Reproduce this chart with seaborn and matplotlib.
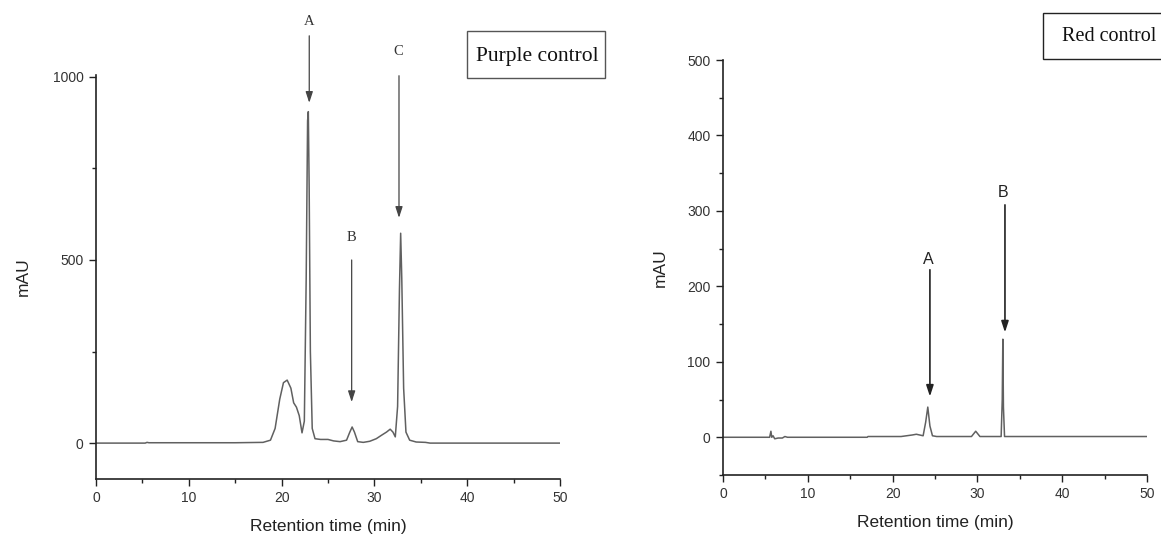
import matplotlib
matplotlib.use("Agg")
import matplotlib.pyplot as plt
from matplotlib.ticker import MultipleLocator
from matplotlib.patches import Rectangle
import seaborn as sns
import pandas as pd

# ---- data ----
purple_time = [0, 5.3, 5.5, 5.7, 10, 15, 18, 18.8, 19.3, 19.8,
               20.2, 20.6, 21.0, 21.3, 21.6, 21.9, 22.2, 22.45, 22.65, 22.8,
               22.88, 22.97, 23.1, 23.3, 23.6, 24.2, 25.0, 25.6, 26.3, 27.0,
               27.35, 27.6, 27.85, 28.2, 28.8, 29.5, 30.2, 30.8, 31.3, 31.7,
               32.0, 32.25, 32.5, 32.7, 32.83, 32.95, 33.15, 33.4, 33.8, 34.5,
               35.5, 36, 40, 45, 50]
purple_mau = [0, 0, 2, 1, 1, 1, 2, 8, 40, 120,
              165, 172, 150, 110, 98, 75, 28, 60, 450, 880,
              905, 700, 250, 40, 12, 10, 10, 6, 4, 8,
              30, 44, 30, 4, 2, 5, 12, 22, 30, 38,
              30, 17, 100, 420, 573, 450, 150, 30, 8, 3,
              2, 0, 0, 0, 0]

red_time = [0, 5.5, 5.65, 5.75, 5.9, 6.1, 6.5, 7.0, 7.3, 7.6,
            10, 17, 17.1, 19, 21, 22.3, 22.8, 23.2, 23.6, 23.9,
            24.15, 24.4, 24.7, 25.2, 29.3, 29.8, 30.3, 32.8, 32.93, 33.0,
            33.07, 33.2, 40, 50]
red_mau = [0, 0, 8, 0, 2, -2, -1, -1, 1, 0,
           0, 0, 1, 1, 1, 3, 4, 3, 2, 20,
           40, 15, 2, 1, 1, 8, 1, 1, 50, 130,
           40, 1, 1, 1]

purple_peaks = ["A", "B", "C"]
red_peaks = ["A", "B"]
x_ticks = [0, 10, 20, 30, 40, 50]
purple_y_ticks = [0, 500, 1000]
red_y_ticks = [0, 100, 200, 300, 400, 500]

purple_df = pd.DataFrame({"time": purple_time, "mAU": purple_mau})
red_df = pd.DataFrame({"time": red_time, "mAU": red_mau})

sns.set_theme(style="ticks")
plt.rcParams["font.family"] = ["Liberation Sans", "DejaVu Sans"]

fig = plt.figure(figsize=(11.61, 5.35), dpi=100)
W, H = 1161, 535
axL = fig.add_axes([96 / W, 1 - 479 / H, (560 - 96) / W, (479 - 75) / H])
axR = fig.add_axes([723 / W, 1 - 475 / H, (1147 - 723) / W, (475 - 60) / H])

line_col = "#606060"
sns.lineplot(data=purple_df, x="time", y="mAU", ax=axL, color=line_col,
             linewidth=1.1, estimator=None)
sns.lineplot(data=red_df, x="time", y="mAU", ax=axR, color=line_col,
             linewidth=1.1, estimator=None)

axL.set_xlim(0, 50)
axL.set_ylim(-98, 1005)
axR.set_xlim(0, 50)
axR.set_ylim(-50, 500)

for ax, yt, ymin, ylp in [(axL, purple_y_ticks, 250, 16), (axR, red_y_ticks, 50, 14)]:
    ax.set_xticks(x_ticks)
    ax.set_yticks(yt)
    ax.xaxis.set_minor_locator(MultipleLocator(5))
    ax.yaxis.set_minor_locator(MultipleLocator(ymin))
    ax.tick_params(axis="both", which="major", direction="out", length=5,
                   width=1, labelsize=10, pad=4, color="#222222",
                   labelcolor="#333333")
    ax.tick_params(axis="both", which="minor", direction="out", length=3,
                   width=1, color="#222222")
    for s in ["top", "right"]:
        ax.spines[s].set_visible(False)
    for s in ["left", "bottom"]:
        ax.spines[s].set_linewidth(1.2)
        ax.spines[s].set_color("#222222")
    ax.set_xlabel("Retention time (min)", fontsize=12.5, color="#222222", labelpad=10)
    ax.set_ylabel("mAU", fontsize=12.5, color="#222222", labelpad=ylp)
    ax.set_facecolor("white")

# peak annotations, left (serif letters)
left_ann = [
    (purple_peaks[0], (22.98, 1150), (22.98, 1112), (22.98, 929)),
    (purple_peaks[1], (27.48, 560), (27.55, 500), (27.55, 112)),
    (purple_peaks[2], (32.55, 1068), (32.65, 1003), (32.65, 615)),
]
for lab, tpos, a0, a1 in left_ann:
    axL.text(tpos[0], tpos[1], lab, ha="center", va="center",
             family=["Liberation Serif"], fontsize=10.5, color="#333333",
             clip_on=False)
    axL.annotate("", xy=a1, xytext=a0, annotation_clip=False,
                 arrowprops=dict(arrowstyle="-|>,head_length=0.55,head_width=0.18",
                                 color="#444444", lw=0.9, shrinkA=0, shrinkB=0))

right_ann = [
    (red_peaks[0], (24.17, 235), (24.4, 222), (24.4, 54)),
    (red_peaks[1], (33.0, 325), (33.25, 308), (33.25, 139)),
]
for lab, tpos, a0, a1 in right_ann:
    axR.text(tpos[0], tpos[1], lab, ha="center", va="center",
             fontsize=11.5, color="#222222", clip_on=False)
    axR.annotate("", xy=a1, xytext=a0, annotation_clip=False,
                 arrowprops=dict(arrowstyle="-|>,head_length=0.55,head_width=0.18",
                                 color="#222222", lw=1.2, shrinkA=0, shrinkB=0))

# label boxes (pixel layout)
fig.patches.append(Rectangle((467 / W, 1 - 78 / H), (605 - 467) / W, 47 / H,
                             transform=fig.transFigure, fc="white", ec="#555555",
                             lw=1, zorder=1))
fig.text(537 / W, 1 - 56 / H, "Purple control", ha="center", va="center",
         family=["Liberation Serif"], fontsize=15.5, color="#111111", zorder=2)
fig.patches.append(Rectangle((1043 / W, 1 - 59 / H), 200 / W, 46 / H,
                             transform=fig.transFigure, fc="white", ec="#222222",
                             lw=1, zorder=1))
fig.text(1062 / W, 1 - 37 / H, "Red control", ha="left", va="center",
         family=["Liberation Serif"], fontsize=14.5, color="#111111", zorder=2)

fig.savefig("out.png", dpi=100, facecolor="white")
